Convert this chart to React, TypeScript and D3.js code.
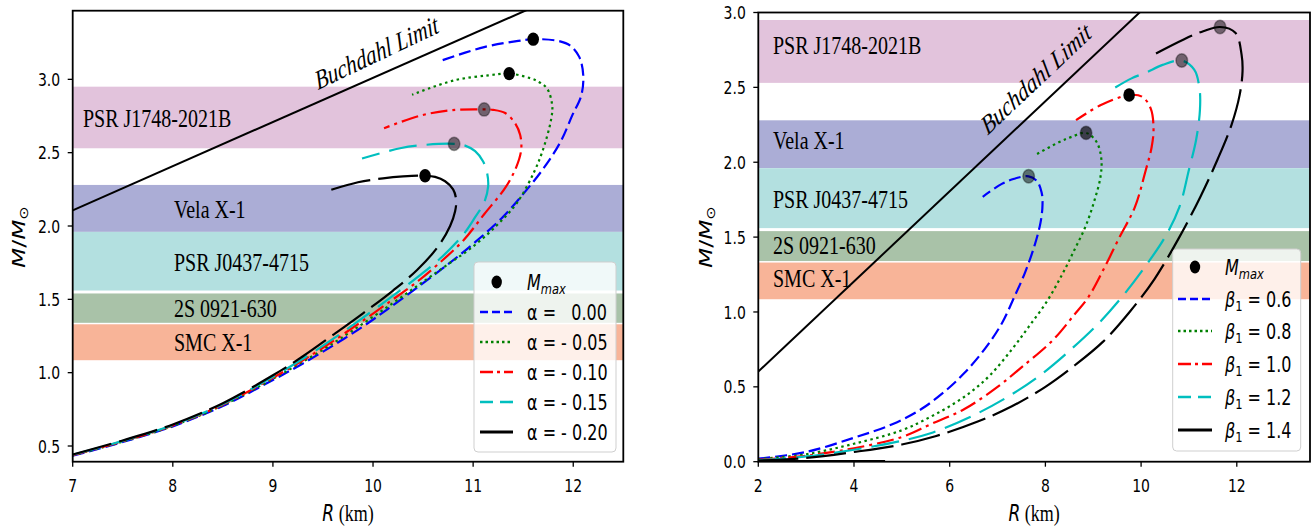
import React from 'react';
import * as d3 from 'd3';

const SY = 1.3;

// ---------- data ----------
const bandNames = ['PSR J1748-2021B', 'Vela X-1', 'PSR J0437-4715', '2S 0921-630', 'SMC X-1'];
const bandLow = [2.53, 1.96, 1.56, 1.34, 1.085];
const bandHigh = [2.95, 2.28, 1.96, 1.54, 1.33];
const bandColors = ['#e2c3dc', '#abadd6', '#b3e0e0', '#a9c2a8', '#f8b498'];

const seriesColors = ['#0000ff', '#008000', '#ff0000', '#00bfbf', '#000000'];

const alphaLabels = ['α =   0.00', 'α = - 0.05', 'α = - 0.10', 'α = - 0.15', 'α = - 0.20'];
const alphaCurves: [number, number][][] = [
  [[7.0, 0.434], [7.5, 0.527], [8.0, 0.634], [8.5, 0.773], [9.0, 0.95], [9.3, 1.063], [9.6, 1.185], [9.9, 1.315], [10.14, 1.43], [10.48, 1.6], [10.77, 1.75], [11.02, 1.89], [11.28, 2.05], [11.49, 2.21], [11.7, 2.39], [11.87, 2.57], [11.99, 2.754], [12.08, 2.89], [12.1, 3.027], [12.06, 3.153], [11.97, 3.23], [11.85, 3.262], [11.6, 3.274], [11.45, 3.262], [11.11, 3.22], [10.67, 3.125]],
  [[7.0, 0.436], [7.5, 0.53], [8.0, 0.637], [8.5, 0.778], [9.0, 0.958], [9.3, 1.075], [9.6, 1.2], [9.9, 1.335], [10.2, 1.475], [10.48, 1.61], [10.73, 1.73], [10.98, 1.85], [11.23, 2.0], [11.44, 2.16], [11.61, 2.37], [11.7, 2.525], [11.78, 2.73], [11.79, 2.82], [11.74, 2.936], [11.65, 2.985], [11.57, 3.008], [11.36, 3.039], [11.15, 3.027], [10.81, 2.993], [10.39, 2.895]],
  [[7.0, 0.438], [7.5, 0.532], [8.0, 0.64], [8.5, 0.782], [9.0, 0.965], [9.3, 1.085], [9.6, 1.215], [9.9, 1.355], [10.2, 1.5], [10.45, 1.625], [10.65, 1.74], [10.9, 1.9], [11.11, 2.08], [11.32, 2.26], [11.43, 2.4], [11.48, 2.52], [11.47, 2.62], [11.42, 2.7], [11.32, 2.77], [11.2, 2.792], [11.11, 2.795], [10.79, 2.79], [10.48, 2.754], [10.11, 2.667]],
  [[7.0, 0.44], [7.5, 0.535], [8.0, 0.643], [8.5, 0.786], [9.0, 0.972], [9.3, 1.095], [9.6, 1.23], [9.9, 1.375], [10.2, 1.525], [10.48, 1.67], [10.69, 1.79], [10.9, 1.94], [11.02, 2.06], [11.11, 2.16], [11.15, 2.27], [11.14, 2.36], [11.1, 2.44], [11.02, 2.51], [10.92, 2.548], [10.81, 2.56], [10.52, 2.553], [10.27, 2.53], [9.89, 2.46]],
  [[7.0, 0.442], [7.5, 0.538], [8.0, 0.647], [8.5, 0.792], [9.0, 0.982], [9.3, 1.112], [9.6, 1.257], [9.9, 1.405], [10.2, 1.56], [10.44, 1.7], [10.65, 1.86], [10.77, 2.0], [10.82, 2.1], [10.83, 2.18], [10.8, 2.25], [10.72, 2.305], [10.62, 2.335], [10.52, 2.343], [10.3, 2.338], [10.1, 2.325], [9.85, 2.298], [9.53, 2.236]],
];
const alphaMax: [number, number][] = [[11.6, 3.274], [11.36, 3.039], [11.11, 2.795], [10.81, 2.56], [10.52, 2.343]];

const betaLabels = ['0.6', '0.8', '1.0', '1.2', '1.4'];
const betaCurves: [number, number][][] = [
  [[2.0, 0.02], [3.0, 0.065], [4.0, 0.16], [4.8, 0.25], [5.4, 0.35], [5.9, 0.47], [6.3, 0.59], [6.75, 0.76], [7.1, 0.93], [7.35, 1.1], [7.57, 1.26], [7.77, 1.44], [7.9, 1.6], [7.94, 1.72], [7.92, 1.8], [7.82, 1.875], [7.65, 1.906], [7.35, 1.89], [7.08, 1.854], [6.69, 1.769]],
  [[2.0, 0.017], [3.0, 0.05], [4.0, 0.12], [5.0, 0.21], [5.6, 0.3], [6.1, 0.39], [6.5, 0.48], [6.85, 0.58], [7.3, 0.75], [7.65, 0.9], [8.03, 1.07], [8.35, 1.25], [8.6, 1.41], [8.85, 1.58], [9.03, 1.75], [9.15, 1.9], [9.17, 2.02], [9.07, 2.135], [8.85, 2.196], [8.55, 2.17], [8.29, 2.135], [7.77, 2.045]],
  [[2.0, 0.013], [3.0, 0.04], [4.0, 0.09], [5.0, 0.165], [5.6, 0.25], [6.3, 0.35], [7.0, 0.5], [7.5, 0.63], [8.15, 0.81], [8.6, 0.98], [8.9, 1.1], [9.24, 1.3], [9.55, 1.5], [9.87, 1.7], [10.1, 1.95], [10.22, 2.1], [10.26, 2.225], [10.2, 2.36], [10.02, 2.438], [9.75, 2.449], [9.16, 2.382], [8.64, 2.281]],
  [[2.0, 0.01], [3.0, 0.035], [4.0, 0.08], [5.0, 0.14], [5.6, 0.19], [6.5, 0.31], [7.3, 0.45], [7.9, 0.58], [8.5, 0.74], [9.1, 0.92], [9.6, 1.1], [10.1, 1.31], [10.5, 1.5], [10.8, 1.7], [11.0, 1.95], [11.15, 2.15], [11.23, 2.35], [11.22, 2.494], [11.11, 2.618], [10.85, 2.679], [10.45, 2.65], [10.11, 2.6], [9.8, 2.56], [9.46, 2.499]],
  [[2.0, 0.008], [3.0, 0.025], [4.0, 0.065], [5.0, 0.115], [5.7, 0.17], [6.6, 0.27], [7.3, 0.37], [8.0, 0.5], [8.6, 0.64], [9.2, 0.8], [9.76, 1.0], [10.28, 1.22], [10.8, 1.5], [11.24, 1.77], [11.6, 2.02], [11.89, 2.25], [12.06, 2.45], [12.12, 2.607], [12.1, 2.719], [11.97, 2.865], [11.65, 2.903], [11.3, 2.875], [10.89, 2.82], [10.2, 2.708]],
];
const betaMax: [number, number][] = [[7.65, 1.906], [8.85, 2.196], [9.75, 2.449], [10.85, 2.679], [11.65, 2.903]];
const betaTails: [number, number][][] = [[], [], [], [[2.0, 0.004], [3.85, 0.004]], [[2.0, 0.003], [4.65, 0.003]]];

const leftBuchdahlR = [7, 12.5];
const leftBuchdahlM = [2.107, 3.763];
const rightBuchdahlR = [2, 13.6];
const rightBuchdahlM = [0.602, 4.093];

const leftXTicks = [7, 8, 9, 10, 11, 12];
const leftYTicks = [0.5, 1.0, 1.5, 2.0, 2.5, 3.0];
const rightXTicks = [2, 4, 6, 8, 10, 12];
const rightYTicks = [0.0, 0.5, 1.0, 1.5, 2.0, 2.5, 3.0];

// ---------- styles ----------
const curveDash = ['12,5', '2.5,3.5', '17,5,3,5', '28,10', '40,8'];
const legendDash = ['8,4', '2.5,3', '13,4,3,4', '13,7', ''];
const SANS = 'DejaVu Sans';
const SERIF = 'Liberation Serif';

function T(props: any) {
  const { x, y, anchor = 'start', size = 14, family = SANS, fstyle, rot, children, fill = '#000' } = props;
  return (
    <text
      transform={`translate(${x},${y}) scale(1,${SY})${rot ? ` rotate(${rot})` : ''}`}
      textAnchor={anchor}
      fontSize={size}
      fontFamily={family}
      fontStyle={fstyle}
      fill={fill}
      style={{ whiteSpace: 'pre' }}
    >
      {children}
    </text>
  );
}

function Panel(props: any) {
  const {
    id, xDomain, xRange, yDomain, yRange, xTicks, yTicks, yFmt, curves, maxPts, maxOpacity,
    tails, bR, bM, bandLabelX, bandLabelShift, buchLabel, legend, yLabelX,
  } = props;
  const x = d3.scaleLinear().domain(xDomain).range(xRange);
  const y = d3.scaleLinear().domain(yDomain).range(yRange);
  const line = d3.line<[number, number]>().x((d) => x(d[0])).y((d) => y(d[1])).curve(d3.curveCatmullRom.alpha(0.5));
  const [L, R] = xRange;
  const [B, Tp] = yRange;
  const order = [0, 1, 2, 3, 4];
  return (
    <g>
      <defs>
        <clipPath id={id}>
          <rect x={L} y={Tp} width={R - L} height={B - Tp} />
        </clipPath>
      </defs>
      <g clipPath={`url(#${id})`}>
        {bandNames.map((n, i) => (
          <rect key={n} x={L} width={R - L} y={y(bandHigh[i])} height={y(bandLow[i]) - y(bandHigh[i])} fill={bandColors[i]} />
        ))}
        <line x1={x(bR[0])} y1={y(bM[0])} x2={x(bR[1])} y2={y(bM[1])} stroke="#000" strokeWidth={2} />
        {order.map((i) => (
          <g key={i}>
            {tails && tails[i].length > 0 && (
              <path d={line(tails[i]) || ''} fill="none" stroke={seriesColors[i]} strokeWidth={i === 4 ? 2.6 : 2.2} strokeDasharray={i === 4 ? undefined : curveDash[i]} />
            )}
            <path d={line(curves[i]) || ''} fill="none" stroke={seriesColors[i]} strokeWidth={2.2} strokeDasharray={curveDash[i]} />
          </g>
        ))}
        {maxPts.map((p: [number, number], i: number) => (
          <ellipse key={i} cx={x(p[0])} cy={y(p[1])} rx={5.8} ry={6.7} fill="#000" fillOpacity={maxOpacity[i]} stroke="#000" strokeOpacity={maxOpacity[i] < 1 ? 0.35 : 0} strokeWidth={1.5} />
        ))}
      </g>
      {bandNames.map((n, i) => (
        <T key={n} x={i === 0 ? bandLabelX[0] : bandLabelX[1]} y={y((bandLow[i] + bandHigh[i]) / 2) + 8.6 + bandLabelShift[i]} size={20} family={SERIF}>
          {n}
        </T>
      ))}
      <T x={buchLabel[0]} y={buchLabel[1]} anchor="middle" size={21} family={SERIF} fstyle="italic" rot={buchLabel[2]}>
        Buchdahl Limit
      </T>
      {legend}
      <rect x={L} y={Tp} width={R - L} height={B - Tp} fill="none" stroke="#000" strokeWidth={1.8} />
      {xTicks.map((t: number) => (
        <g key={t}>
          <line x1={x(t)} x2={x(t)} y1={B} y2={B + 5} stroke="#000" strokeWidth={1.3} />
          <T x={x(t)} y={B + 30} anchor="middle" size={14}>{String(t)}</T>
        </g>
      ))}
      {yTicks.map((t: number) => (
        <g key={t}>
          <line x1={L - 5} x2={L} y1={y(t)} y2={y(t)} stroke="#000" strokeWidth={1.3} />
          <T x={L - 12.5} y={y(t) + 6.6} anchor="end" size={14}>{yFmt(t)}</T>
        </g>
      ))}
      <T x={(L + R) / 2} y={521} anchor="middle" size={17}>
        <tspan fontStyle="italic" fontFamily={SANS}>R</tspan>
        <tspan fontFamily={SERIF} fontSize={18}> (km)</tspan>
      </T>
      <T x={yLabelX} y={237} anchor="middle" size={18} rot={-90}>
        <tspan fontStyle="italic">M</tspan>
        <tspan>/</tspan>
        <tspan fontStyle="italic">M</tspan>
        <tspan fontSize={12.5} dy={3}>⊙</tspan>
      </T>
    </g>
  );
}

function Legend(props: any) {
  const { box, rows, hx, tx, mx, labels } = props;
  const [bx, by, bw, bh] = box;
  return (
    <g>
      <rect x={bx} y={by} width={bw} height={bh} rx={4} fill="#fff" fillOpacity={0.8} stroke="#cfcfcf" strokeWidth={1} />
      <ellipse cx={mx} cy={rows[0]} rx={5.2} ry={6.5} fill="#000" />
      <T x={tx} y={rows[0] + 7.6} size={16}>
        <tspan fontStyle="italic">M</tspan>
        <tspan fontStyle="italic" fontSize={11.5} dy={3}>max</tspan>
      </T>
      {labels.map((lab: any, i: number) => (
        <g key={i}>
          <line x1={hx[0]} x2={hx[1]} y1={rows[i + 1]} y2={rows[i + 1]} stroke={seriesColors[i]} strokeWidth={i === 4 ? 3 : 2.6} strokeDasharray={legendDash[i] || undefined} />
          <T x={tx} y={rows[i + 1] + 7.6} size={16}>{lab}</T>
        </g>
      ))}
    </g>
  );
}

export default function App() {
  const fmt1 = d3.format('.1f');
  const leftRows = [282, 312, 342, 372, 402, 432];
  const rightRows = [267, 299, 331, 364, 397, 430];
  const betaLegendLabels = betaLabels.map((b) => (
    <>
      <tspan fontStyle="italic">β</tspan>
      <tspan fontSize={11.5} dy={3}>1</tspan>
      <tspan dy={-3}>{` = ${b}`}</tspan>
    </>
  ));
  return (
    <svg width={1312} height={528} style={{ position: 'absolute', left: 0, top: 0, background: '#fff' }}>
      <rect x={0} y={0} width={1312} height={528} fill="#fff" />
      <Panel
        id="clipL"
        xDomain={[7, 12.5]}
        xRange={[72.7, 623.3]}
        yDomain={[0.393, 3.468]}
        yRange={[461.7, 10.7]}
        xTicks={leftXTicks}
        yTicks={leftYTicks}
        yFmt={fmt1}
        curves={alphaCurves}
        maxPts={alphaMax}
        maxOpacity={[1, 1, 0.5, 0.5, 1]}
        tails={null}
        bR={leftBuchdahlR}
        bM={leftBuchdahlM}
        bandLabelX={[83, 174]}
        bandLabelShift={[1, 1, 1, 0, 0]}
        buchLabel={[379, 61, -20]}
        yLabelX={25}
        legend={<Legend box={[474, 262, 142, 190]} rows={leftRows} hx={[480, 513]} tx={527} mx={496.7} labels={alphaLabels} />}
      />
      <Panel
        id="clipR"
        xDomain={[2, 13.53]}
        xRange={[758.3, 1310]}
        yDomain={[0, 3]}
        yRange={[461.7, 12.5]}
        xTicks={rightXTicks}
        yTicks={rightYTicks}
        yFmt={fmt1}
        curves={betaCurves}
        maxPts={betaMax}
        maxOpacity={[0.5, 0.65, 1, 0.5, 0.5]}
        tails={betaTails}
        bR={rightBuchdahlR}
        bM={rightBuchdahlM}
        bandLabelX={[773, 773]}
        bandLabelShift={[-6, -4, 1, -1, -2]}
        buchLabel={[1040, 86, -36]}
        yLabelX={712}
        legend={<Legend box={[1172.7, 249, 128, 202]} rows={rightRows} hx={[1178, 1212]} tx={1225} mx={1195} labels={betaLegendLabels} />}
      />
    </svg>
  );
}
